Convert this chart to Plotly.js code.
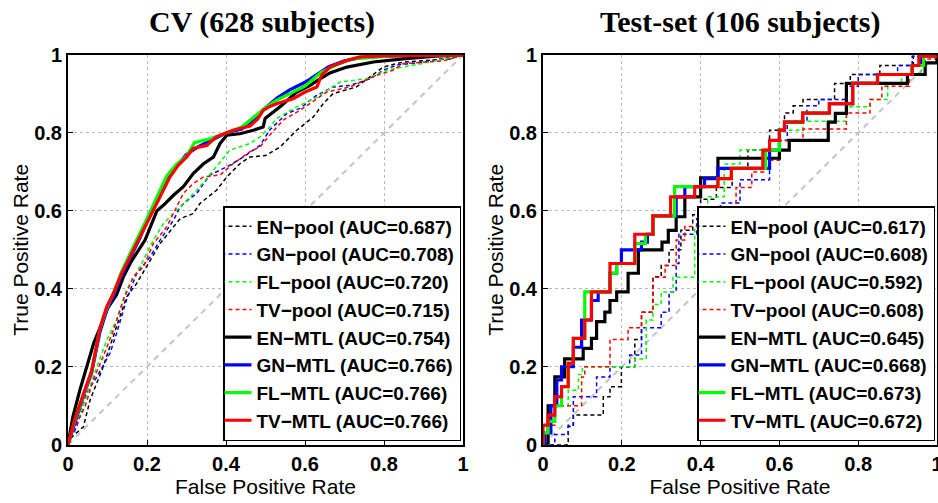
<!DOCTYPE html>
<html><head><meta charset="utf-8">
<script src="https://cdn.plot.ly/plotly-3.0.1.min.js"></script>
<style>html,body{margin:0;padding:0;background:#fff}#c{width:938px;height:503px}</style>
</head><body><div id="c"></div>
<script>
// ---------- tick labels ----------
const tickVals = [0, 0.2, 0.4, 0.6, 0.8, 1];
const tickText = ['0', '0.2', '0.4', '0.6', '0.8', '1'];

// ---------- series names ----------
const seriesKeys = ['EN-pool', 'GN-pool', 'FL-pool', 'TV-pool', 'EN-MTL', 'GN-MTL', 'FL-MTL', 'TV-MTL'];
const cvAUC   = ['0.687', '0.708', '0.720', '0.715', '0.754', '0.766', '0.766', '0.766'];
const testAUC = ['0.617', '0.608', '0.592', '0.608', '0.645', '0.668', '0.673', '0.672'];

// ---------- CV (628 subjects) ROC curves ----------
const cvENpoolFPR = [0,0.01,0.039,0.056,0.089,0.115,0.132,0.148,0.174,0.199,0.233,0.267,0.284,0.317,0.334,0.376,0.402,0.435,0.46,0.5,0.537,0.579,0.621,0.646,0.671,0.73,0.765,0.798,0.849,0.967,1];
const cvENpoolTPR = [0,0.02,0.046,0.115,0.2,0.277,0.328,0.379,0.414,0.456,0.516,0.559,0.58,0.593,0.619,0.653,0.687,0.721,0.738,0.742,0.764,0.807,0.841,0.875,0.901,0.918,0.944,0.969,0.982,0.99,1];
const cvGNpoolFPR = [0,0.022,0.047,0.073,0.106,0.123,0.148,0.174,0.208,0.233,0.267,0.284,0.30,0.326,0.359,0.402,0.444,0.486,0.511,0.554,0.587,0.63,0.672,0.714,0.765,0.798,0.832,0.9,1];
const cvGNpoolTPR = [0,0.046,0.132,0.174,0.234,0.286,0.371,0.44,0.482,0.525,0.576,0.61,0.625,0.645,0.692,0.713,0.738,0.768,0.808,0.85,0.863,0.897,0.918,0.922,0.939,0.961,0.974,0.982,1];
const cvFLpoolFPR = [0,0.018,0.047,0.073,0.098,0.123,0.148,0.182,0.216,0.242,0.267,0.30,0.326,0.351,0.376,0.41,0.461,0.486,0.511,0.528,0.579,0.63,0.689,0.756,0.806,0.849,0.916,1];
const cvFLpoolTPR = [0,0.046,0.124,0.2,0.268,0.32,0.397,0.456,0.525,0.568,0.593,0.627,0.653,0.683,0.713,0.756,0.773,0.79,0.815,0.837,0.867,0.892,0.931,0.939,0.961,0.969,0.982,1];
const cvTVpoolFPR = [0,0.015,0.043,0.064,0.089,0.115,0.14,0.165,0.191,0.216,0.25,0.275,0.292,0.317,0.343,0.385,0.418,0.461,0.486,0.511,0.545,0.587,0.655,0.714,0.781,0.823,0.849,0.95,1];
const cvTVpoolTPR = [0,0.04,0.097,0.166,0.226,0.294,0.371,0.431,0.456,0.516,0.559,0.61,0.645,0.67,0.687,0.692,0.721,0.752,0.764,0.795,0.833,0.858,0.905,0.918,0.948,0.961,0.978,0.985,1];
const cvENmtlFPR = [0,0.012,0.03,0.05,0.065,0.085,0.1,0.123,0.14,0.16,0.18,0.195,0.225,0.242,0.267,0.292,0.317,0.343,0.368,0.385,0.402,0.435,0.469,0.494,0.499,0.54,0.579,0.613,0.638,0.663,0.706,0.773,0.848,0.93,1];
const cvENmtlTPR = [0,0.07,0.14,0.21,0.26,0.31,0.35,0.385,0.43,0.47,0.5,0.525,0.60,0.615,0.64,0.662,0.696,0.721,0.738,0.773,0.794,0.798,0.807,0.815,0.837,0.87,0.905,0.922,0.939,0.954,0.969,0.982,0.99,0.997,1];
const cvGNmtlFPR = [0,0.018,0.039,0.06,0.081,0.098,0.115,0.136,0.157,0.182,0.2,0.225,0.25,0.275,0.3,0.33,0.36,0.4,0.44,0.47,0.5,0.53,0.56,0.6,0.63,0.66,0.7,0.74,0.8,0.9,1];
const cvGNmtlTPR = [0,0.06,0.125,0.185,0.29,0.345,0.38,0.435,0.48,0.53,0.575,0.63,0.68,0.715,0.745,0.765,0.78,0.8,0.81,0.835,0.865,0.89,0.91,0.93,0.95,0.97,0.985,0.993,0.997,1,1];
const cvFLmtlFPR = [0,0.018,0.039,0.06,0.081,0.098,0.115,0.136,0.157,0.182,0.2,0.225,0.25,0.275,0.3,0.32,0.36,0.4,0.44,0.47,0.5,0.53,0.56,0.6,0.64,0.68,0.72,0.78,0.85,1];
const cvFLmtlTPR = [0,0.065,0.128,0.19,0.3,0.35,0.39,0.445,0.49,0.54,0.58,0.635,0.69,0.72,0.74,0.775,0.785,0.8,0.815,0.84,0.865,0.885,0.9,0.92,0.955,0.975,0.99,0.995,1,1];
const cvTVmtlFPR = [0,0.018,0.039,0.06,0.081,0.098,0.115,0.136,0.157,0.182,0.203,0.212,0.233,0.258,0.279,0.30,0.317,0.351,0.376,0.418,0.461,0.48,0.494,0.511,0.528,0.570,0.6,0.63,0.642,0.663,0.706,0.739,0.8,0.9,1];
const cvTVmtlTPR = [0,0.068,0.13,0.19,0.30,0.354,0.388,0.44,0.482,0.533,0.576,0.593,0.636,0.687,0.717,0.738,0.76,0.768,0.79,0.807,0.818,0.835,0.858,0.868,0.875,0.888,0.905,0.918,0.948,0.969,0.986,0.995,0.998,1,1];

// ---------- Test-set (106 subjects) ROC curves (step points) ----------
const tsENpoolFPR = [0,0.064,0.077,0.153,0.17,0.199,0.233,0.25,0.279,0.3,0.32,0.35,0.38,0.4,0.44,0.48,0.52,0.575,0.613,0.635,0.66,0.74,0.78,0.855,0.94,1];
const tsENpoolTPR = [0,0.047,0.076,0.123,0.149,0.2,0.27,0.34,0.431,0.46,0.5,0.55,0.59,0.63,0.66,0.71,0.756,0.807,0.851,0.87,0.886,0.927,0.95,0.973,0.997,1];
const tsGNpoolFPR = [0,0.03,0.064,0.077,0.136,0.17,0.22,0.25,0.3,0.32,0.338,0.345,0.39,0.41,0.45,0.5,0.575,0.6,0.62,0.67,0.7,0.77,0.8,0.9,0.937,1];
const tsGNpoolTPR = [0,0.026,0.05,0.123,0.174,0.2,0.23,0.3,0.34,0.392,0.465,0.54,0.58,0.6,0.62,0.68,0.756,0.781,0.83,0.87,0.886,0.92,0.95,0.973,0.997,1];
const tsFLpoolFPR = [0,0.013,0.064,0.09,0.1,0.233,0.262,0.279,0.3,0.33,0.385,0.418,0.46,0.5,0.6,0.66,0.77,0.83,0.875,0.91,0.96,1];
const tsFLpoolTPR = [0,0.1,0.14,0.18,0.2,0.22,0.32,0.36,0.392,0.43,0.56,0.636,0.72,0.756,0.807,0.83,0.867,0.886,0.927,0.95,0.997,1];
const tsTVpoolFPR = [0,0.013,0.03,0.098,0.106,0.17,0.216,0.25,0.279,0.31,0.338,0.36,0.41,0.49,0.53,0.56,0.6,0.66,0.77,0.83,0.86,0.93,0.97,1];
const tsTVpoolTPR = [0,0.05,0.1,0.174,0.2,0.27,0.3,0.34,0.43,0.46,0.525,0.56,0.61,0.66,0.7,0.73,0.78,0.81,0.851,0.886,0.92,0.95,0.99,1];
const tsENmtlFPR = [0,0.013,0.03,0.055,0.102,0.123,0.136,0.157,0.17,0.187,0.216,0.242,0.302,0.318,0.338,0.36,0.4,0.444,0.6,0.625,0.724,0.742,0.77,0.925,0.97,1];
const tsENmtlTPR = [0,0.1,0.174,0.22,0.247,0.273,0.316,0.34,0.37,0.392,0.44,0.5,0.52,0.55,0.585,0.636,0.685,0.735,0.756,0.781,0.828,0.85,0.927,0.95,0.98,1];
const tsGNmtlFPR = [0,0.005,0.02,0.035,0.047,0.077,0.098,0.123,0.14,0.17,0.187,0.199,0.25,0.265,0.279,0.338,0.36,0.41,0.444,0.575,0.6,0.613,0.659,0.727,0.786,0.849,0.937,0.96,1];
const tsGNmtlTPR = [0,0.03,0.1,0.166,0.2,0.25,0.32,0.37,0.392,0.44,0.465,0.5,0.52,0.54,0.587,0.636,0.662,0.683,0.709,0.756,0.807,0.828,0.851,0.875,0.927,0.95,0.973,0.997,1];
const tsFLmtlFPR = [0,0,0.013,0.03,0.047,0.064,0.077,0.106,0.17,0.187,0.233,0.26,0.279,0.334,0.444,0.478,0.565,0.6,0.613,0.659,0.727,0.786,0.849,0.937,0.966,1];
const tsFLmtlTPR = [0,0.03,0.06,0.1,0.149,0.209,0.273,0.392,0.44,0.465,0.516,0.54,0.587,0.662,0.683,0.709,0.756,0.807,0.828,0.851,0.875,0.927,0.95,0.973,0.997,1];
const tsTVmtlFPR = [0,0,0.013,0.03,0.047,0.064,0.077,0.106,0.123,0.17,0.233,0.279,0.324,0.385,0.444,0.478,0.558,0.575,0.6,0.613,0.659,0.727,0.786,0.849,0.937,0.954,1];
const tsTVmtlTPR = [0,0.05,0.076,0.123,0.149,0.209,0.273,0.32,0.392,0.465,0.54,0.587,0.636,0.662,0.683,0.709,0.756,0.781,0.807,0.828,0.851,0.875,0.927,0.95,0.973,0.997,1];

const chanceLine = [0, 1];

// ---------- styling ----------
const colors = ['#000000', '#0000ff', '#00ff00', '#ff0000', '#000000', '#0000ff', '#00ff00', '#ff0000'];
const isMTL = [false, false, false, false, true, true, true, true];
const txtFont = 'Liberation Sans, Arial, Helvetica, sans-serif';

const cvX = [cvENpoolFPR, cvGNpoolFPR, cvFLpoolFPR, cvTVpoolFPR, cvENmtlFPR, cvGNmtlFPR, cvFLmtlFPR, cvTVmtlFPR];
const cvY = [cvENpoolTPR, cvGNpoolTPR, cvFLpoolTPR, cvTVpoolTPR, cvENmtlTPR, cvGNmtlTPR, cvFLmtlTPR, cvTVmtlTPR];
const tsX = [tsENpoolFPR, tsGNpoolFPR, tsFLpoolFPR, tsTVpoolFPR, tsENmtlFPR, tsGNmtlFPR, tsFLmtlFPR, tsTVmtlFPR];
const tsY = [tsENpoolTPR, tsGNpoolTPR, tsFLpoolTPR, tsTVpoolTPR, tsENmtlTPR, tsGNmtlTPR, tsFLmtlTPR, tsTVmtlTPR];

const label = (k, auc) => k.replace('-', '\u2212') + ' (AUC=' + auc + ')';

const traces = [];
// chance diagonals
traces.push({x: chanceLine, y: chanceLine, xaxis: 'x', yaxis: 'y', mode: 'lines', showlegend: false, hoverinfo: 'skip',
  line: {color: '#c4c4c4', width: 2, dash: '6px,5px'}});
traces.push({x: chanceLine, y: chanceLine, xaxis: 'x2', yaxis: 'y2', mode: 'lines', showlegend: false, hoverinfo: 'skip',
  line: {color: '#c4c4c4', width: 2, dash: '6px,5px'}});

seriesKeys.forEach((k, i) => {
  const ln = isMTL[i] ? {color: colors[i], width: 3.2} : {color: colors[i], width: 1.5, dash: '4px,3px'};
  traces.push({x: cvX[i], y: cvY[i], xaxis: 'x', yaxis: 'y', mode: 'lines', name: label(k, cvAUC[i]),
    legend: 'legend', line: Object.assign({shape: 'linear'}, ln)});
});
seriesKeys.forEach((k, i) => {
  const ln = isMTL[i] ? {color: colors[i], width: 3.2} : {color: colors[i], width: 1.5, dash: '4px,3px'};
  traces.push({x: tsX[i], y: tsY[i], xaxis: 'x2', yaxis: 'y2', mode: 'lines', name: label(k, testAUC[i]),
    legend: 'legend2', line: Object.assign({shape: 'hv'}, ln)});
});

const W = 938, H = 503;
const yBot = 444.7, yTop = 55;
const ydom = [1 - yBot / H, 1 - yTop / H];

function xax(dom) {
  return {domain: dom, range: [0, 1], tickvals: tickVals, ticktext: tickText, ticks: 'inside', ticklen: 5,
    tickcolor: '#000', tickwidth: 1, showline: true, mirror: true, linecolor: '#000', linewidth: 2,
    showgrid: true, gridcolor: '#b8b8b8', griddash: 'dot', gridwidth: 1, zeroline: false,
    ticklabeloverflow: 'allow',
    tickfont: {family: txtFont, size: 20, weight: 'bold', color: '#000'},
    title: {text: 'False Positive Rate', font: {family: txtFont, size: 21, color: '#000'}, standoff: 0}};
}
function yax(anchor) {
  return {domain: ydom, range: [0, 1], anchor: anchor, tickvals: tickVals, ticktext: tickText, ticks: 'inside', ticklen: 5,
    tickcolor: '#000', tickwidth: 1, showline: true, mirror: true, linecolor: '#000', linewidth: 2,
    showgrid: true, gridcolor: '#b8b8b8', griddash: 'dot', gridwidth: 1, zeroline: false,
    tickfont: {family: txtFont, size: 20, weight: 'bold', color: '#000'},
    title: {text: 'True Positive Rate', font: {family: txtFont, size: 21, color: '#000'}, standoff: 0}};
}
function leg(xr) {
  return {x: xr / W, xanchor: 'right', y: 1 - 441 / H, yanchor: 'bottom', bgcolor: '#fff', bordercolor: '#000',
    borderwidth: 1.5, font: {family: txtFont, size: 19, weight: 'bold', color: '#000'}, itemwidth: 30,
    tracegroupgap: 0, indentation: -8};
}

const layout = {
  width: W, height: H, margin: {l: 0, r: 0, t: 0, b: 0}, paper_bgcolor: '#fff', plot_bgcolor: '#fff',
  showlegend: true,
  xaxis: Object.assign(xax([68 / W, 463 / W]), {anchor: 'y'}),
  yaxis: yax('x'),
  xaxis2: Object.assign(xax([543 / W, 937 / W]), {anchor: 'y2'}),
  yaxis2: yax('x2'),
  legend: leg(461),
  legend2: leg(935),
  annotations: [
    {text: 'CV (628 subjects)', xref: 'paper', yref: 'paper', x: 262 / W, y: 1 - 22 / H, xanchor: 'center', yanchor: 'middle',
      showarrow: false, font: {family: 'Liberation Serif, Times New Roman, serif', size: 30, weight: 'bold', color: '#000'}},
    {text: 'Test-set (106 subjects)', xref: 'paper', yref: 'paper', x: 740 / W, y: 1 - 22 / H, xanchor: 'center', yanchor: 'middle',
      showarrow: false, font: {family: 'Liberation Serif, Times New Roman, serif', size: 30, weight: 'bold', color: '#000'}}
  ]
};

Plotly.newPlot('c', traces, layout, {staticPlot: true, displayModeBar: false});
</script>
</body></html>
